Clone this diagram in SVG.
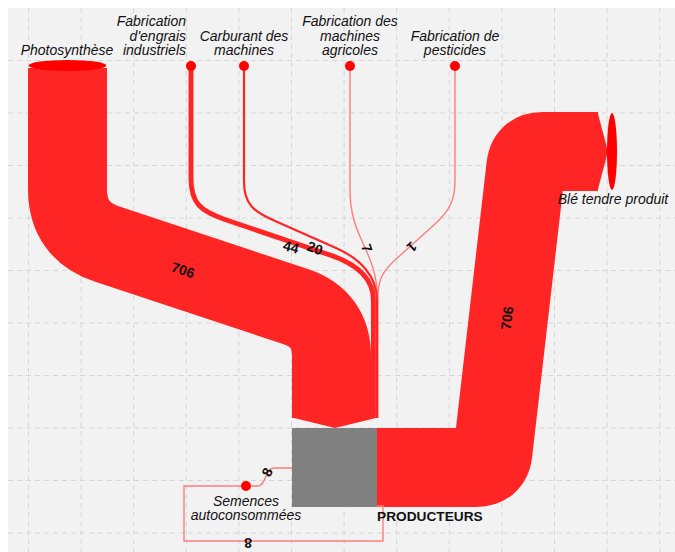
<svg xmlns="http://www.w3.org/2000/svg" width="675" height="552" viewBox="0 0 675 552">
<style>
.grid line{stroke:#d6d6d6;stroke-width:1;stroke-dasharray:5,4}
.band{fill:none;stroke:#ff2525;stroke-linecap:butt;stroke-linejoin:round}
.thin{fill:none;stroke:#ff2525}
.light{fill:none;stroke:#ff7c7c;stroke-width:1.4}
.nlab{font-family:"Liberation Sans",Arial,sans-serif;font-style:italic;font-size:14px;fill:#111}
.vlab{font-family:"Liberation Sans",Arial,sans-serif;font-weight:bold;font-size:14px;fill:#111;text-anchor:middle;dominant-baseline:central}
.dot{fill:#ff0000}
</style>
<rect x="0" y="0" width="675" height="552" fill="#ffffff"/>
<rect x="8" y="8" width="667" height="544" fill="#f2f2f2"/>
<g class="grid">
<line x1="28.5" y1="8" x2="28.5" y2="552"/><line x1="81.1" y1="8" x2="81.1" y2="552"/><line x1="133.7" y1="8" x2="133.7" y2="552"/><line x1="186.3" y1="8" x2="186.3" y2="552"/><line x1="238.9" y1="8" x2="238.9" y2="552"/><line x1="291.5" y1="8" x2="291.5" y2="552"/><line x1="344.1" y1="8" x2="344.1" y2="552"/><line x1="396.7" y1="8" x2="396.7" y2="552"/><line x1="449.3" y1="8" x2="449.3" y2="552"/><line x1="501.9" y1="8" x2="501.9" y2="552"/><line x1="554.5" y1="8" x2="554.5" y2="552"/><line x1="607.1" y1="8" x2="607.1" y2="552"/><line x1="659.7" y1="8" x2="659.7" y2="552"/>
<line x1="8" y1="60.5" x2="675" y2="60.5"/><line x1="8" y1="113" x2="675" y2="113"/><line x1="8" y1="165.5" x2="675" y2="165.5"/><line x1="8" y1="218" x2="675" y2="218"/><line x1="8" y1="270.5" x2="675" y2="270.5"/><line x1="8" y1="323" x2="675" y2="323"/><line x1="8" y1="375.5" x2="675" y2="375.5"/><line x1="8" y1="428" x2="675" y2="428"/><line x1="8" y1="480.5" x2="675" y2="480.5"/><line x1="8" y1="533" x2="675" y2="533"/>
</g>
<g id="links">
<path class="light" d="M 455,70 L 455,180 C 455,200 450,210 435,224 L 395,260 C 382,272 377.8,280 377.8,300 L 377.8,418"/>
<path class="light" d="M 350,70 L 350,190 C 350,240 377.5,250 377.5,300 L 377.5,418"/>
<path class="thin" stroke-width="2.2" d="M 244,70 L 244,182 C 244,204 254,212 274,220.5 L 336,248 C 360,258.5 377,276 377,300 L 377,418"/>
<path class="thin" stroke-width="4.9" d="M 191,70 L 191,178 C 191,203 200,211 225,219.5 L 330,255 C 358,264.5 373.4,280 373.4,300 L 373.4,418"/>
<path class="band" stroke-width="79" d="M 67.5,68 L 67.5,189 Q 67.5,231.3 107.4,244.2 L 295.4,306.5 Q 331.5,318.4 331.5,356.4 L 331.5,418"/>
<polygon points="292,417.5 378,417.5 335,428" fill="#ff2525"/>
<path class="band" stroke-width="79" d="M 377,467.5 L 476,467.5 Q 491.2,467.5 492.9,452.6 L 525.9,166.4 Q 527.6,151.5 542.6,151.5 L 598,151.5"/>
<polygon points="597.5,112 608,151.5 597.5,191" fill="#ff2525"/>
<path class="light" d="M 251,486 L 258,486 C 266,486 265,468 274,468 L 292,468"/>
<path class="light" d="M 377,506 L 383,506 L 383,541 L 184,541 L 184,486 L 241,486"/>
<text class="vlab" transform="translate(183,270) rotate(18)">706</text>
<text class="vlab" transform="translate(291,247) rotate(15)">44</text>
<text class="vlab" transform="translate(315,248) rotate(20)">20</text>
<text class="vlab" transform="translate(367,248) rotate(71)">7</text>
<text class="vlab" transform="translate(412,247) rotate(138)">1</text>
<text class="vlab" transform="translate(507,318) rotate(-83)">706</text>
<text class="vlab" transform="translate(267,472) rotate(-65)">8</text>
<text class="vlab" transform="translate(248,543) rotate(180)">8</text>
</g>
<g id="node-photosynthese">
<ellipse cx="67.5" cy="65.5" rx="39" ry="5.5" class="dot"/>
<text class="nlab" x="67" y="55" text-anchor="middle">Photosynthèse</text>
</g>
<g id="node-engrais">
<circle cx="191" cy="66" r="5" class="dot"/>
<text class="nlab" text-anchor="end"><tspan x="186" y="26">Fabrication</tspan><tspan x="186" y="41">d'engrais</tspan><tspan x="186" y="55">industriels</tspan></text>
</g>
<g id="node-carburant">
<circle cx="244" cy="66" r="5" class="dot"/>
<text class="nlab" text-anchor="middle"><tspan x="244" y="41">Carburant des</tspan><tspan x="244" y="55">machines</tspan></text>
</g>
<g id="node-machines">
<circle cx="350" cy="66" r="5" class="dot"/>
<text class="nlab" text-anchor="middle"><tspan x="350" y="26">Fabrication des</tspan><tspan x="350" y="41">machines</tspan><tspan x="350" y="55">agricoles</tspan></text>
</g>
<g id="node-pesticides">
<circle cx="455" cy="66" r="5" class="dot"/>
<text class="nlab" text-anchor="middle"><tspan x="455" y="41">Fabrication de</tspan><tspan x="455" y="55">pesticides</tspan></text>
</g>
<g id="node-producteurs">
<rect x="292" y="428" width="85" height="79" fill="#808080"/>
<text x="377" y="521" font-family="'Liberation Sans',Arial,sans-serif" font-weight="bold" font-size="13.7" fill="#111">PRODUCTEURS</text>
</g>
<g id="node-ble">
<ellipse cx="612" cy="151.5" rx="5" ry="38.5" class="dot"/>
<text class="nlab" x="613" y="204" text-anchor="middle">Blé tendre produit</text>
</g>
<g id="node-semences">
<circle cx="246" cy="486" r="5" class="dot"/>
<text class="nlab" text-anchor="middle"><tspan x="246" y="506">Semences</tspan><tspan x="246" y="520">autoconsommées</tspan></text>
</g>
</svg>
